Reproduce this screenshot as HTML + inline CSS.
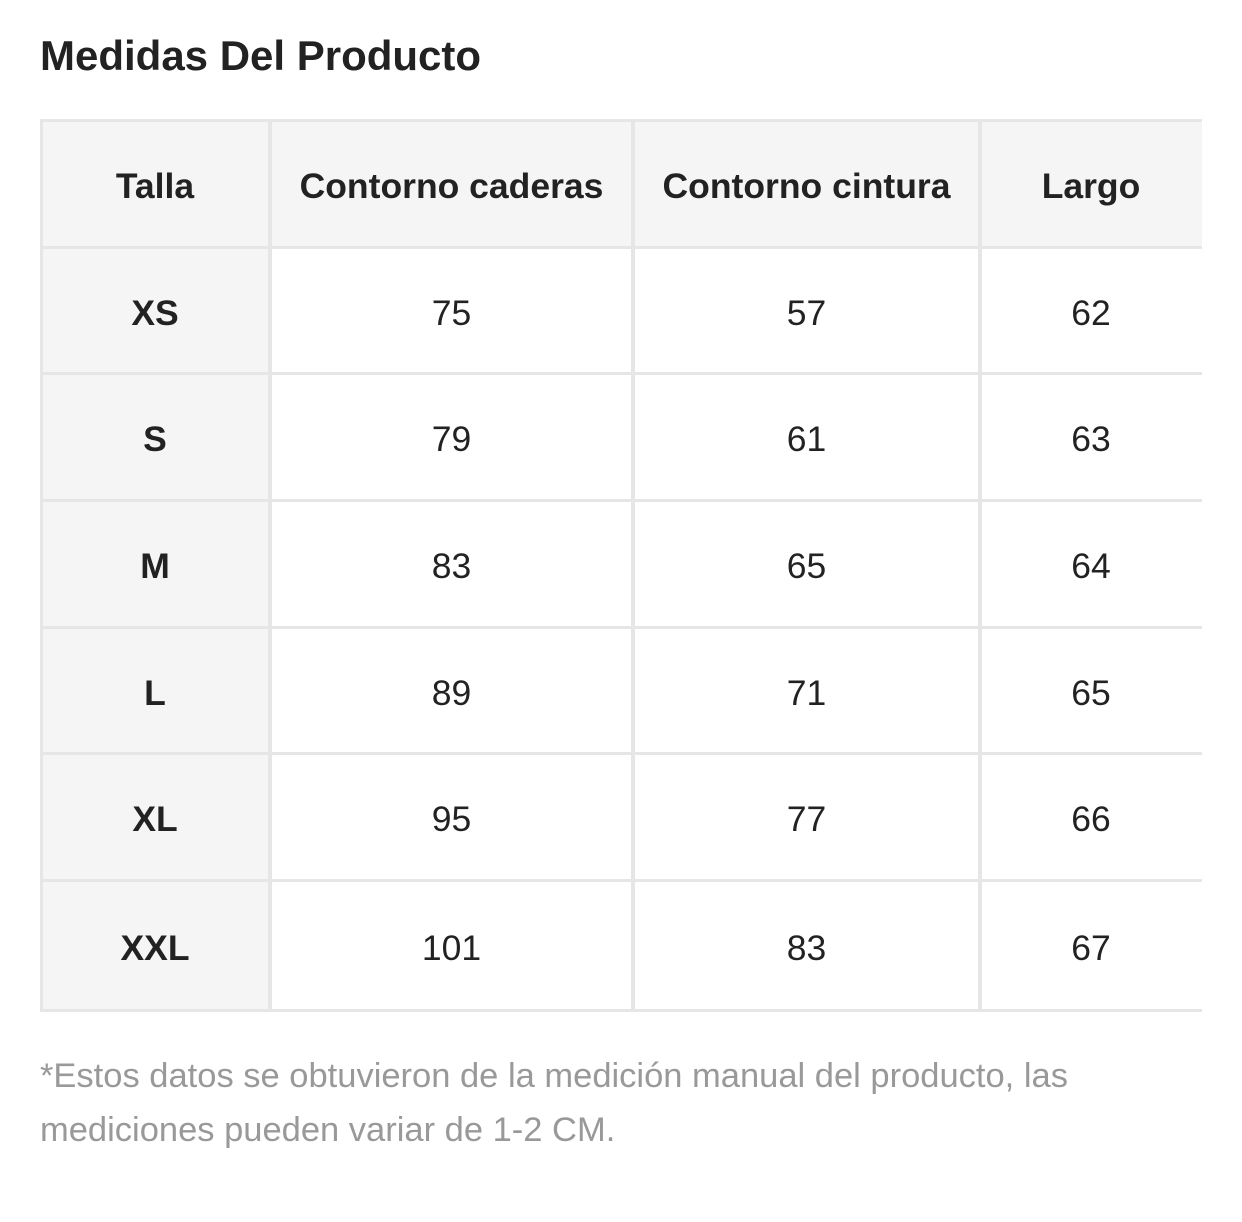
<!DOCTYPE html>
<html><head><meta charset="utf-8"><style>
body{margin:0;width:1242px;height:1222px;background:#fff;position:relative;font-family:"Liberation Sans",Arial,sans-serif;color:#222;overflow:hidden}
#title{position:absolute;left:40px;top:32px;font-size:42px;font-weight:bold;color:#222;white-space:nowrap}
#tbl{position:absolute;left:0;top:0}
.cell{position:absolute;display:flex;align-items:center;justify-content:center;font-size:35.5px;box-sizing:border-box;padding-top:6px}
.hd{background:#f5f5f5;font-weight:bold}
.ln{position:absolute;background:#e6e6e6}
#note{position:absolute;left:40px;top:1049px;width:1100px;font-size:34.5px;line-height:54px;color:#999}
</style></head><body>
<div id="title">Medidas Del Producto</div>
<div id="tbl"></div>
<div id="note">*Estos datos se obtuvieron de la medición manual del producto, las mediciones pueden variar de 1-2 CM.</div>
<script>
const headers=["Talla","Contorno caderas","Contorno cintura","Largo"];
const sizes=["XS","S","M","L","XL","XXL"];
const hips=[75,79,83,89,95,101];
const waist=[57,61,65,71,77,83];
const length=[62,63,64,65,66,67];
const colX=[40,270,633,980,1202];
const rowY=[120,247,373,500,627,753,880,1010];
const tbl=document.getElementById('tbl');
function cell(x0,x1,y0,y1,txt,cls,name){
  const d=document.createElement('div');
  d.className='cell '+cls;
  d.style.left=x0+'px';d.style.top=y0+'px';d.style.width=(x1-x0)+'px';d.style.height=(y1-y0)+'px';
  d.textContent=txt;
  
  
  tbl.appendChild(d);
}
for(let c=0;c<4;c++){cell(colX[c],colX[c+1],rowY[0],rowY[1],headers[c],'hd','header-'+headers[c].toLowerCase().replace(/ /g,'-'));}
for(let r=0;r<sizes.length;r++){
  const y0=rowY[r+1],y1=rowY[r+2];
  cell(colX[0],colX[1],y0,y1,sizes[r],'hd','size-'+sizes[r].toLowerCase());
  cell(colX[1],colX[2],y0,y1,hips[r],'','hips-'+sizes[r].toLowerCase());
  cell(colX[2],colX[3],y0,y1,waist[r],'','waist-'+sizes[r].toLowerCase());
  cell(colX[3],colX[4],y0,y1,length[r],'','length-'+sizes[r].toLowerCase());
}
for(const y of rowY){const l=document.createElement('div');l.className='ln';l.style.left='40px';l.style.top=(y-1)+'px';l.style.width='1162px';l.style.height='3px';


tbl.appendChild(l);}
for(let i=0;i<4;i++){const x=colX[i];const l=document.createElement('div');l.className='ln';l.style.left=(i==0?x:x-2)+'px';l.style.top='120px';l.style.width=(i==0?3:4)+'px';l.style.height='891px';


tbl.appendChild(l);}
</script>
</body></html>
